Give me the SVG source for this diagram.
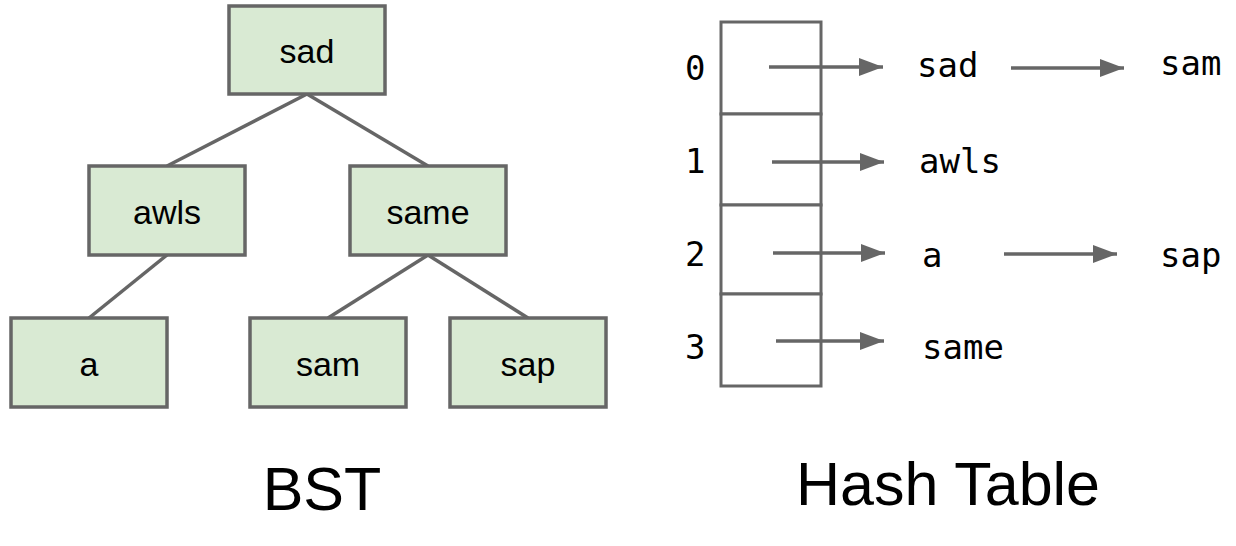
<svg xmlns="http://www.w3.org/2000/svg" width="1236" height="546" viewBox="0 0 1236 546">
<style>
.node rect{fill:#d9ead3;stroke:#666;stroke-width:3.5}
.node text{font-family:"Liberation Sans",Arial,sans-serif;font-size:34px;fill:#000;text-anchor:middle}
.edge{stroke:#666;stroke-width:3.5;fill:none}
.arrow{stroke:#666;stroke-width:3.5;fill:none;marker-end:url(#ah)}
.mono{font-family:"DejaVu Sans Mono",monospace;font-size:34px;fill:#000}
.title{font-family:"Liberation Sans",Arial,sans-serif;font-size:61px;fill:#000;text-anchor:middle}
.cell{fill:#fff;stroke:#666;stroke-width:3}
</style>
<defs>
<marker id="ah" markerWidth="7" markerHeight="5.2" refX="7" refY="2.6" orient="auto" markerUnits="strokeWidth">
<path d="M0,0 L7,2.6 L0,5.2 Z" fill="#666"/>
</marker>
</defs>
<rect width="1236" height="546" fill="#fff"/>
<g id="connectors">
<line class="edge" x1="307" y1="94" x2="167" y2="166"/>
<line class="edge" x1="307" y1="94" x2="428" y2="166"/>
<line class="edge" x1="167" y1="255" x2="89" y2="318"/>
<line class="edge" x1="428" y1="255" x2="328" y2="318"/>
<line class="edge" x1="428" y1="255" x2="528" y2="318"/>
</g>
<g id="node-sad" class="node"><rect x="229" y="6" width="156" height="88"/><text x="307" y="63">sad</text></g>
<g id="node-awls" class="node"><rect x="89" y="166" width="156" height="89"/><text x="167" y="224">awls</text></g>
<g id="node-same" class="node"><rect x="350" y="166" width="156" height="89"/><text x="428" y="224">same</text></g>
<g id="node-a" class="node"><rect x="11" y="318" width="156" height="89"/><text x="89" y="376">a</text></g>
<g id="node-sam" class="node"><rect x="250" y="318" width="156" height="89"/><text x="328" y="376">sam</text></g>
<g id="node-sap" class="node"><rect x="450" y="318" width="156" height="89"/><text x="528" y="376">sap</text></g>
<text class="title" x="322" y="510">BST</text>
<g id="hash-table">
<rect class="cell" x="721" y="22" width="100" height="92"/>
<rect class="cell" x="721" y="114" width="100" height="91"/>
<rect class="cell" x="721" y="205" width="100" height="89"/>
<rect class="cell" x="721" y="294" width="100" height="92"/>
<text class="mono" x="685" y="80">0</text>
<text class="mono" x="685" y="173">1</text>
<text class="mono" x="685" y="266">2</text>
<text class="mono" x="685" y="359">3</text>
</g>
<g id="hash-arrows">
<line class="arrow" x1="769" y1="67" x2="883" y2="67"/>
<line class="arrow" x1="772" y1="162" x2="884" y2="162"/>
<line class="arrow" x1="773" y1="253" x2="885" y2="253"/>
<line class="arrow" x1="776" y1="341" x2="884" y2="341"/>
<line class="arrow" x1="1011" y1="68" x2="1124" y2="68"/>
<line class="arrow" x1="1004" y1="254" x2="1117" y2="254"/>
</g>
<g id="entries">
<text class="mono" x="917" y="77">sad</text>
<text class="mono" x="1160" y="75">sam</text>
<text class="mono" x="919" y="173">awls</text>
<text class="mono" x="922" y="267">a</text>
<text class="mono" x="1160" y="267">sap</text>
<text class="mono" x="922" y="359">same</text>
</g>
<text class="title" x="948" y="505">Hash Table</text>
</svg>
